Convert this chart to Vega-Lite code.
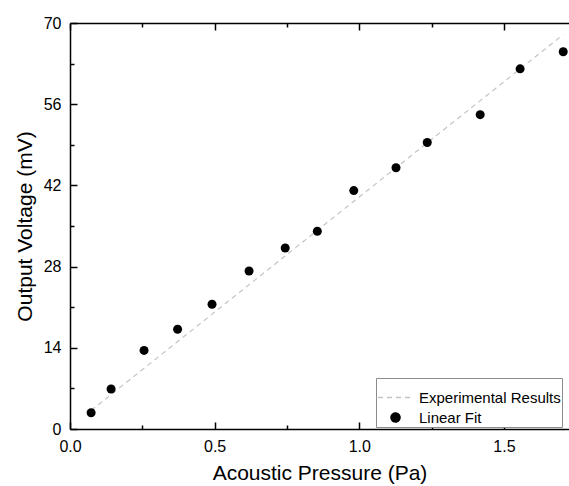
{
  "$schema": "https://vega.github.io/schema/vega-lite/v6.json",
  "autosize": "none",
  "padding": {"left": 70, "top": 23, "right": 0, "bottom": 57},
  "width": 499,
  "height": 406,
  "background": "white",
  "config": {
    "font": "Liberation Sans",
    "view": {"stroke": null},
    "axis": {
      "domainColor": "black", "domainWidth": 1.5, "tickColor": "black", "tickWidth": 1.5,
      "labelColor": "black", "labelFontSize": 16, "labelFont": "Liberation Sans", "labelFlush": false,
      "titleColor": "black", "titleFontSize": 21, "titleFontWeight": "normal", "titleFont": "Liberation Sans",
      "grid": false
    },
    "legend": {"labelFont": "Liberation Sans", "labelFontSize": 15, "labelColor": "black"}
  },
  "datasets": {
    "points": [
      {"pressure": 0.073, "voltage": 2.8, "series": "Linear Fit"},
      {"pressure": 0.142, "voltage": 6.9, "series": "Linear Fit"},
      {"pressure": 0.256, "voltage": 13.55, "series": "Linear Fit"},
      {"pressure": 0.372, "voltage": 17.2, "series": "Linear Fit"},
      {"pressure": 0.491, "voltage": 21.5, "series": "Linear Fit"},
      {"pressure": 0.619, "voltage": 27.25, "series": "Linear Fit"},
      {"pressure": 0.744, "voltage": 31.2, "series": "Linear Fit"},
      {"pressure": 0.855, "voltage": 34.1, "series": "Linear Fit"},
      {"pressure": 0.981, "voltage": 41.1, "series": "Linear Fit"},
      {"pressure": 1.127, "voltage": 45.05, "series": "Linear Fit"},
      {"pressure": 1.235, "voltage": 49.4, "series": "Linear Fit"},
      {"pressure": 1.418, "voltage": 54.2, "series": "Linear Fit"},
      {"pressure": 1.556, "voltage": 62.1, "series": "Linear Fit"},
      {"pressure": 1.705, "voltage": 65.05, "series": "Linear Fit"}
    ],
    "fit": [
      {"pressure": 0.073, "voltage": 3.2, "series": "Experimental Results"},
      {"pressure": 1.705, "voltage": 68.0, "series": "Experimental Results"}
    ]
  },
  "resolve": {"axis": {"x": "independent", "y": "independent"}},
  "layer": [
    {
      "data": {"name": "fit"},
      "mark": {"type": "line", "strokeWidth": 1.2},
      "encoding": {
        "x": {"field": "pressure", "type": "quantitative", "scale": {"domain": [0, 1.725], "nice": false, "zero": false},
          "axis": {"orient": "bottom", "values": [0, 0.5, 1, 1.5], "format": ".1f", "tickSize": -7, "labelPadding": 16, "title": "Acoustic Pressure (Pa)", "titlePadding": 8}},
        "y": {"field": "voltage", "type": "quantitative", "scale": {"domain": [0, 70], "nice": false},
          "axis": {"orient": "left", "values": [0, 14, 28, 42, 56, 70], "tickSize": -7, "labelPadding": 16, "title": "Output Voltage (mV)", "titlePadding": 8}},
        "color": {"field": "series", "type": "nominal", "scale": {"domain": ["Experimental Results", "Linear Fit"], "range": ["#c4c4c4", "black"]},
          "legend": {"title": null, "orient": "none", "legendX": 306, "legendY": 355, "strokeColor": "#8c8c8c", "fillColor": "white", "padding": 1, "labelOffset": 5, "rowPadding": 4}},
        "strokeDash": {"field": "series", "type": "nominal", "scale": {"domain": ["Experimental Results", "Linear Fit"], "range": [[5, 4], [1, 0]]}, "legend": {"title": null}}
      }
    },
    {
      "data": {"name": "points"},
      "mark": {"type": "point", "filled": true, "opacity": 1},
      "encoding": {
        "x": {"field": "pressure", "type": "quantitative",
          "axis": {"orient": "top", "values": [0, 0.5, 1, 1.5], "labels": false, "tickSize": -7, "title": null}},
        "y": {"field": "voltage", "type": "quantitative",
          "axis": {"orient": "left", "values": [7, 21, 35, 49, 63], "labels": false, "domain": false, "tickSize": -4, "title": null}},
        "color": {"field": "series", "type": "nominal"},
        "shape": {"field": "series", "type": "nominal", "scale": {"domain": ["Experimental Results", "Linear Fit"], "range": ["stroke", "circle"]}, "legend": {"title": null}},
        "size": {"field": "series", "type": "nominal", "scale": {"domain": ["Experimental Results", "Linear Fit"], "range": [1225, 81]}, "legend": {"title": null}}
      }
    },
    {
      "data": {"name": "points"},
      "mark": {"type": "point", "opacity": 0},
      "encoding": {
        "x": {"field": "pressure", "type": "quantitative",
          "axis": {"orient": "bottom", "values": [0.25, 0.75, 1.25], "labels": false, "domain": false, "tickSize": -4, "title": null}},
        "y": {"field": "voltage", "type": "quantitative", "axis": null}
      }
    },
    {
      "data": {"name": "points"},
      "mark": {"type": "point", "opacity": 0},
      "encoding": {
        "x": {"field": "pressure", "type": "quantitative",
          "axis": {"orient": "top", "values": [0.25, 0.75, 1.25], "labels": false, "domain": false, "tickSize": -4, "title": null}},
        "y": {"field": "voltage", "type": "quantitative", "axis": null}
      }
    }
  ]
}
